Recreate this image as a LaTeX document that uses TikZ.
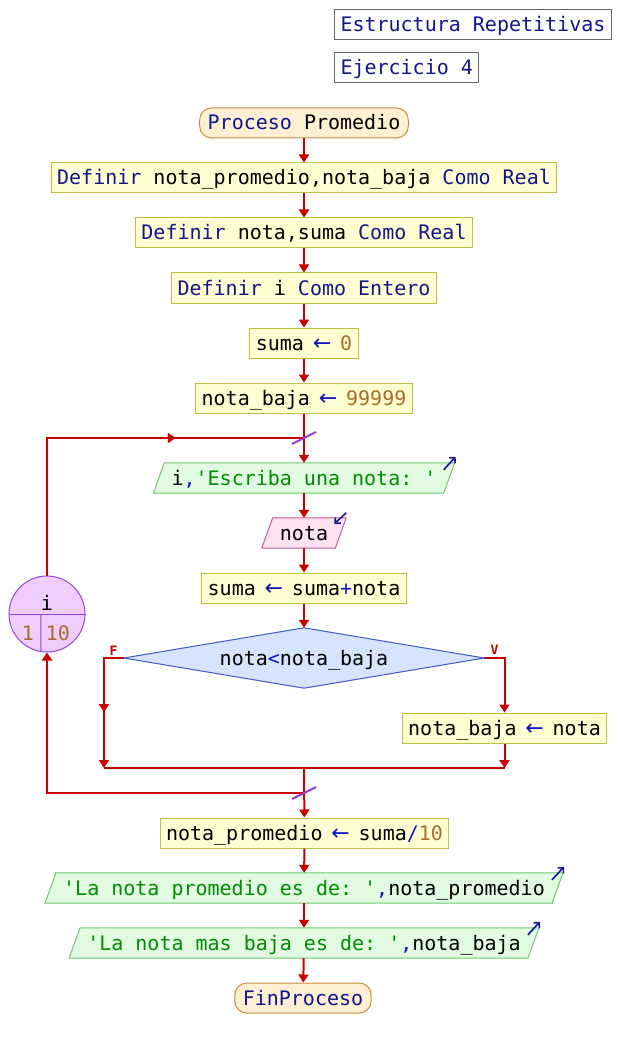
\documentclass[tikz,border=0pt]{standalone}
\usepackage{fontspec}
\setmonofont{DejaVu Sans Mono}
\newfontfamily\arrowfont{DejaVu Sans}
\usetikzlibrary{arrows.meta,backgrounds,decorations.markings}

% palette
\definecolor{kwc}{RGB}{20,20,140}
\definecolor{opc}{RGB}{20,20,190}
\definecolor{numc}{RGB}{170,110,40}
\definecolor{strc}{RGB}{0,140,0}
\definecolor{flowred}{RGB}{200,0,0}
\definecolor{procfill}{RGB}{255,255,210}
\definecolor{procline}{RGB}{190,190,70}
\definecolor{termfill}{RGB}{255,240,212}
\definecolor{termline}{RGB}{200,140,60}
\definecolor{outfill}{RGB}{226,250,226}
\definecolor{outline}{RGB}{110,200,110}
\definecolor{inpfill}{RGB}{255,226,240}
\definecolor{inpline}{RGB}{200,90,150}
\definecolor{diafill}{RGB}{215,228,255}
\definecolor{dialine}{RGB}{60,90,200}
\definecolor{cirfill}{RGB}{240,205,255}
\definecolor{cirline}{RGB}{150,70,210}
\definecolor{slashc}{RGB}{150,60,210}
\definecolor{iconc}{RGB}{20,20,150}

% syntax colouring
\newcommand{\kwd}[1]{\textcolor{kwc}{#1}}
\newcommand{\opr}[1]{\textcolor{opc}{#1}}
\newcommand{\nmb}[1]{\textcolor{numc}{#1}}
\newcommand{\strg}[1]{\textcolor{strc}{#1}}
\newcommand{\q}{\textquotesingle}
% assignment arrow, one character cell wide
\newcommand{\asg}{\textcolor{opc}{\makebox[12.04pt][c]{\arrowfont\fontsize{22}{24}\selectfont ←}}}

\begin{document}
\begin{tikzpicture}[x=1pt,y=-1pt,
  font=\ttfamily\fontsize{20}{24}\selectfont,
  base/.style={minimum height=30pt, inner ysep=0pt, inner xsep=6pt,
               text height=17pt, text depth=3pt},
  procbox/.style={base, draw=procline, fill=procfill, line width=1pt},
  termbox/.style={base, inner xsep=8pt, rounded corners=12pt,
                  draw=termline, fill=termfill, line width=1pt},
  titlebox/.style={base, anchor=west, draw=black!60, fill=white, text=kwc, line width=1pt},
  iobox/.style={base, inner xsep=12.5pt},
  txt/.style={inner sep=0pt, anchor=base},
  wire/.style={draw=flowred, line width=2pt},
  flow/.style={wire, -{Triangle[width=10pt,length=8pt]}},
  midarrow/.style={postaction={decorate, decoration={markings,
      mark=at position #1 with {\arrow{Triangle[width=10pt,length=8pt]}}}}},
  slash/.style={draw=slashc, line width=2pt},
  icon/.style={draw=iconc, line width=1.6pt, -{Straight Barb[length=4pt,width=8pt]}},
  flabel/.style={txt, text=flowred, font=\ttfamily\bfseries\fontsize{13}{15}\selectfont}
]
\useasboundingbox (0,0) rectangle (620,1048);

% header
\node[titlebox] (t1) at (334,25) {Estructura Repetitivas};
\node[titlebox] (t2) at (334,68) {Ejercicio 4};

% straight-line part
\node[termbox] (start) at (304,123) {\kwd{Proceso} Promedio};
\node[procbox] (d1) at (304,178) {\kwd{Definir} nota\_promedio,nota\_baja \kwd{Como Real}};
\node[procbox] (d2) at (304,233) {\kwd{Definir} nota,suma \kwd{Como Real}};
\node[procbox] (d3) at (304,288) {\kwd{Definir} i \kwd{Como Entero}};
\node[procbox] (a1) at (304,343) {suma \asg{} \nmb{0}};
\node[procbox] (a2) at (304,398) {nota\_baja \asg{} \nmb{99999}};

% loop body
\node[iobox] (o1) at (304,478) {i\opr{,}\strg{\q Escriba una nota: \q}};
\node[iobox] (in1) at (304,533) {nota};
\node[procbox] (s2) at (304,588) {suma \asg{} suma\opr{+}nota};
\node[base, minimum width=360pt, minimum height=60pt, inner xsep=0pt] (cond) at (304,658) {nota\opr{<}nota\_baja};
\node[procbox] (nb2) at (504.5,728) {nota\_baja \asg{} nota};
\node[flabel] (lf) at (113.5,655) {F};
\node[flabel] (lv) at (494.5,654) {V};

% loop counter
\node[circle, minimum size=76pt, inner sep=0pt, draw=cirline, fill=cirfill, line width=1pt] (loopc) at (47,614) {};
\draw[cirline, line width=1pt] (loopc.west) -- (loopc.east);
\draw[cirline, line width=1pt] ([xshift=-6pt]loopc.center) -- (loopc.261);
\node[txt] (iv) at (47,610) {i};
\node[txt, text=numc] (ia) at (28,640) {1};
\node[txt, text=numc] (ib) at (58,640) {10};

% after the loop
\node[procbox] (np) at (304.5,833) {nota\_promedio \asg{} suma\opr{/}\nmb{10}};
\node[iobox] (o2) at (304,888) {\strg{\q La nota promedio es de: \q}\opr{,}nota\_promedio};
\node[iobox] (o3) at (304,943) {\strg{\q La nota mas baja es de: \q}\opr{,}nota\_baja};
\node[termbox] (fin) at (303,998) {\kwd{FinProceso}};

% junction points
\coordinate (jin) at (304,438);
\coordinate (jout) at (304,793);
\coordinate (merge) at (304,768);
\coordinate (fend) at (104,768);
\coordinate (vend) at (504.5,768);

% shapes drawn behind the text
\begin{scope}[on background layer]
  \fill[white] (0,0) rectangle (620,1048);
  \foreach \n in {o1,o2,o3}
    \path[fill=outfill, draw=outline, line width=1pt]
      ([xshift=-5.5pt]\n.south west) -- ([xshift=-5.5pt]\n.south east)
      -- ([xshift=5.5pt]\n.north east) -- ([xshift=5.5pt]\n.north west) -- cycle;
  \path[fill=inpfill, draw=inpline, line width=1pt]
      ([xshift=-5.5pt]in1.south west) -- ([xshift=-5.5pt]in1.south east)
      -- ([xshift=5.5pt]in1.north east) -- ([xshift=5.5pt]in1.north west) -- cycle;
  \path[fill=diafill, draw=dialine, line width=1pt]
      (cond.west) -- (cond.north) -- (cond.east) -- (cond.south) -- cycle;
\end{scope}

% input / output markers
\foreach \n in {o1,o2,o3}
  \draw[icon] ([xshift=-5.5pt,yshift=-7pt]\n.north east) -- ([xshift=6.5pt,yshift=6pt]\n.north east);
\draw[icon] ([xshift=5.5pt,yshift=5pt]in1.north east) -- ([xshift=-6.5pt,yshift=-6pt]in1.north east);

% connectors
\draw[flow] (start) -- (d1);
\draw[flow] (d1) -- (d2);
\draw[flow] (d2) -- (d3);
\draw[flow] (d3) -- (a1);
\draw[flow] (a1) -- (a2);
\draw[flow] (a2) -- (o1);
\draw[wire, midarrow=0.675] (loopc.north) |- (jin);
\draw[flow] (o1) -- (in1);
\draw[flow] (in1) -- (s2);
\draw[flow] (s2) -- (cond);
\draw[flow, midarrow=0.57] (cond.west) -| (fend);
\draw[flow] (cond.east) -| (nb2.north);
\draw[flow] (nb2) -- (vend);
\draw[wire] (fend) -- (vend);
\draw[flow] (merge) -- (np);
\draw[flow] (jout) -| (loopc.south);
\draw[flow] (np) -- (o2);
\draw[flow] (o2) -- (o3);
\draw[flow] (o3) -- (fin);

% loop markers
\draw[slash] ([shift={(-12pt,-6pt)}]jin) -- ([shift={(12pt,6pt)}]jin);
\draw[slash] ([shift={(-12pt,-6pt)}]jout) -- ([shift={(12pt,6pt)}]jout);
\end{tikzpicture}
\end{document}
